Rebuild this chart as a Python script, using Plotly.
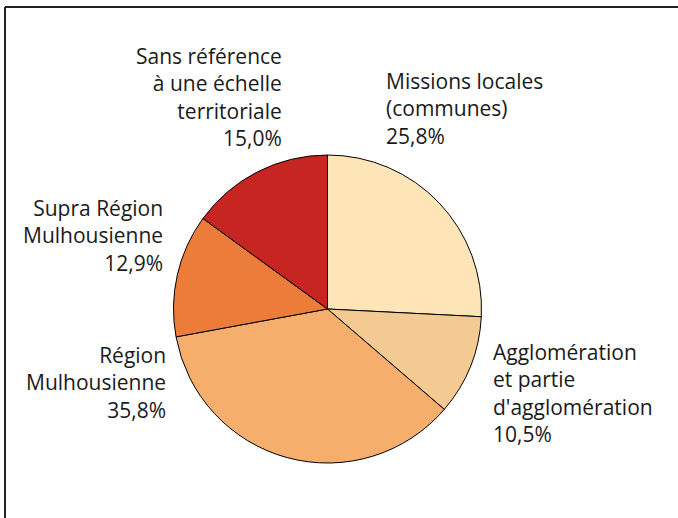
import plotly.graph_objects as go

W, H = 678, 518

categories = ["Missions locales (communes)", "Agglomération et partie d'agglomération",
              "Région Mulhousienne", "Supra Région Mulhousienne",
              "Sans référence à une échelle territoriale"]
label_lines = [["Missions locales", "(communes)"],
               ["Agglomération", "et partie", "d'agglomération"],
               ["Région", "Mulhousienne"],
               ["Supra Région", "Mulhousienne"],
               ["Sans référence", "à une échelle", "territoriale"]]
values = [25.8, 10.5, 35.8, 12.9, 15.0]
colors = ["#FDE5B8", "#F3CB92", "#F5AE6C", "#EC7C3A", "#C72522"]

# label anchor positions in pixels: (x, y center of block, xanchor, align)
label_pos = [(384, 108, "left", "left"),
             (491, 393, "left", "left"),
             (168, 382, "right", "right"),
             (165, 235, "right", "right"),
             (284, 97, "right", "right")]

cx, cy, r = 327.5, 309, 154

fig = go.Figure(go.Pie(
    labels=categories, values=values, sort=False, direction="clockwise",
    rotation=0, textinfo="none", hoverinfo="label+percent",
    marker=dict(colors=colors, line=dict(color="#000000", width=1)),
    domain=dict(x=[(cx - r) / W, (cx + r) / W], y=[1 - (cy + r) / H, 1 - (cy - r) / H]),
    showlegend=False,
))

annotations = []
for lines, v, (px, py, xa, al) in zip(label_lines, values, label_pos):
    txt = "<br>".join(lines + [f"{v:.1f}".replace(".", ",") + "%"])
    annotations.append(dict(
        x=px / W, y=1 - py / H, xref="paper", yref="paper", text=txt,
        showarrow=False, xanchor=xa, yanchor="middle", align=al,
        font=dict(family="Open Sans", size=21, color="#1a1a1a"),
    ))

shapes = [
    dict(type="line", xref="paper", yref="paper", x0=5 / W, x1=1.0, y0=1 - 7 / H, y1=1 - 7 / H,
         line=dict(color="#222222", width=2)),
    dict(type="line", xref="paper", yref="paper", x0=5 / W, x1=5 / W, y0=1 - 7 / H, y1=0,
         line=dict(color="#222222", width=2)),
]

fig.update_layout(
    width=W, height=H, margin=dict(l=0, r=0, t=0, b=0),
    paper_bgcolor="white", plot_bgcolor="white",
    annotations=annotations, shapes=shapes,
)

fig.write_html("out.html", config={"displayModeBar": False},
               post_script="document.body.style.margin='0';document.documentElement.style.margin='0';")
